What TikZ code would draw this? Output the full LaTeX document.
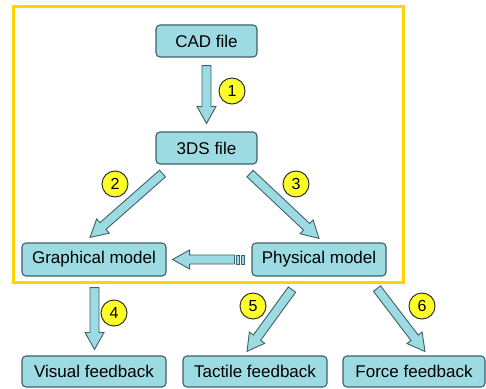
\documentclass[tikz,border=0pt]{standalone}
\usepackage{fontspec}
\setmainfont{Liberation Sans}
\usetikzlibrary{calc}
\definecolor{boxfill}{RGB}{157,219,227}
\definecolor{boxline}{RGB}{62,96,106}
\definecolor{frameyellow}{RGB}{255,212,0}
\definecolor{numfill}{RGB}{255,255,40}

\newcommand{\blockarrow}[2]{%
\filldraw[arrowbody] let \p1=(#1), \p2=(#2), \n1={atan2(\y2-\y1,\x2-\x1)},
  \n2={veclen(\x2-\x1,\y2-\y1)-17pt}, \n3={\n1+90}, \n4={\n1-90} in
  ($(\p1)+(\n3:4.5pt)$) -- ($(\p1)+(\n1:\n2)+(\n3:4.5pt)$) -- ($(\p1)+(\n1:\n2)+(\n3:9.5pt)$)
  -- (\p2) -- ($(\p1)+(\n1:\n2)+(\n4:9.5pt)$) -- ($(\p1)+(\n1:\n2)+(\n4:4.5pt)$)
  -- ($(\p1)+(\n4:4.5pt)$) -- cycle;}

\begin{document}
\begin{tikzpicture}[x=1pt, y=-1pt,
font=\fontsize{17}{20}\selectfont,
stage/.style={rectangle,draw=boxline,fill=boxfill,line width=1.1pt,rounded corners=4pt,
  inner sep=0pt,minimum height=32pt,text=black},
num/.style={circle,draw=black!80,fill=numfill,line width=1pt,minimum size=26pt,
  inner sep=0pt,font=\fontsize{16}{18}\selectfont},
arrowbody/.style={draw=boxline,fill=boxfill,line width=0.9pt,line join=miter},
]
\useasboundingbox (0,0) rectangle (486,388);

\draw[frameyellow, line width=3pt] (13,6) rectangle (403,282);

\node[stage, minimum width=101pt] (cad) at (206.5,41) {CAD file};
\node[stage, minimum width=101pt] (tds) at (206.5,148) {3DS file};
\node[stage, minimum width=144pt, minimum height=33pt] (gm) at (94,259.5) {Graphical model};
\node[stage, minimum width=134pt, minimum height=33pt] (pm) at (319,259.5) {Physical model};
\node[stage, minimum width=144pt, minimum height=31pt] (vf) at (94,371.5) {Visual feedback};
\node[stage, minimum width=144pt, minimum height=31pt] (tf) at (255,371.5) {Tactile feedback};
\node[stage, minimum width=142pt, minimum height=31pt] (ff) at (414,371.5) {Force feedback};

\blockarrow{$(cad.south)+(0,8)$}{$(tds.north)+(0,-8)$}
\blockarrow{$(tds.south)+(-44,9)$}{$(gm.north)+(-4,-5)$}
\blockarrow{$(tds.south)+(43.5,9)$}{$(pm.north)+(0,-4)$}
\blockarrow{$(pm.west)+(-17,0)$}{$(gm.east)+(6,0)$}
\filldraw[arrowbody] ($(pm.west)+(-15.5,-4.5)$) rectangle ++(3,9);
\filldraw[arrowbody] ($(pm.west)+(-10.5,-4.5)$) rectangle ++(3.5,9);
\blockarrow{$(gm.south)+(0.5,11)$}{$(vf.north)+(0.5,-6)$}
\blockarrow{$(pm.south)+(-27,13)$}{$(tf.north)+(-8,-4)$}
\blockarrow{$(pm.south)+(58,12)$}{$(ff.north)+(11,-4)$}

\node[num] (n1) at (232,91) {1};
\node[num] (n2) at (115,184) {2};
\node[num] (n3) at (296,184) {3};
\node[num] (n4) at (114,313) {4};
\node[num] (n5) at (253,306) {5};
\node[num] (n6) at (422,306) {6};
\end{tikzpicture}
\end{document}
